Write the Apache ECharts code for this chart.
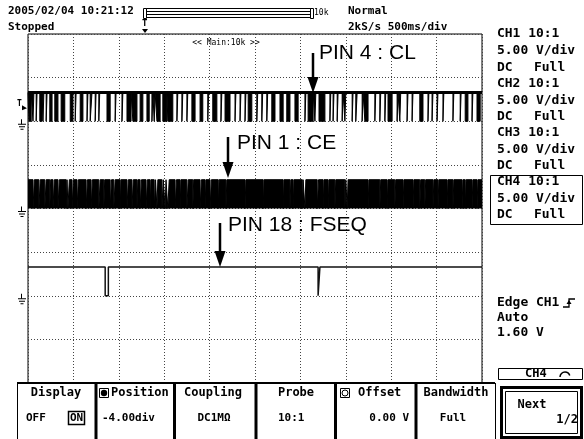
<!DOCTYPE html>
<html>
<head>
<meta charset="utf-8">
<script src="https://cdn.jsdelivr.net/npm/echarts@6/dist/echarts.min.js"></script>
<style>
html, body { margin: 0; padding: 0; background: #fff; }
#main { width: 584px; height: 439px; }
</style>
</head>
<body>
<div id="main"></div>
<script>
// scope setup
var voltsPerDiv = 5;
var logicHigh = 3.3;                 // V
var chPosition = [2, 0, -2, -4];     // ground level of CH1..CH4, in div
var trigLevel = 1.6;                 // V, edge trigger on CH1

// CH1 (PIN 4 : CL) sits high and drops low in these windows (div)
var ch1Pulses = [
  [0.02, 0.07], [0.11, 0.13], [0.18, 0.2], [0.26, 0.31], [0.33, 0.35], [0.40, 0.42],
  [0.48, 0.53], [0.59, 0.66], [0.73, 0.81], [0.93, 0.99], [1.04, 1.06], [1.15, 1.21],
  [1.30, 1.32], [1.37, 1.41], [1.48, 1.50], [1.56, 1.58], [1.74, 1.81], [1.92, 1.94],
  [2.07, 2.09], [2.18, 2.27], [2.31, 2.40], [2.47, 2.53], [2.62, 2.67], [2.73, 2.75],
  [2.78, 2.80], [2.84, 2.91], [2.97, 3.06], [3.08, 3.19], [3.28, 3.30], [3.39, 3.41],
  [3.50, 3.52], [3.61, 3.68], [3.79, 3.85], [3.96, 3.98], [4.07, 4.16], [4.25, 4.27],
  [4.34, 4.45], [4.56, 4.58], [4.67, 4.69], [4.78, 4.80], [4.85, 4.93], [5.04, 5.06],
  [5.15, 5.17], [5.26, 5.28], [5.37, 5.44], [5.55, 5.62], [5.70, 5.77], [5.88, 5.95],
  [6.10, 6.12], [6.17, 6.28], [6.32, 6.34], [6.41, 6.54], [6.65, 6.67], [6.72, 6.74],
  [6.81, 6.83], [6.92, 6.94], [6.98, 7.00], [7.14, 7.16], [7.22, 7.25], [7.36, 7.38],
  [7.42, 7.49], [7.64, 7.66], [7.75, 7.77], [7.86, 7.88], [7.93, 8.02], [8.13, 8.15],
  [8.19, 8.21], [8.35, 8.37], [8.46, 8.48], [8.63, 8.70], [8.81, 8.83], [8.90, 8.92],
  [9.01, 9.03], [9.14, 9.16], [9.36, 9.38], [9.52, 9.54], [9.63, 9.69], [9.78, 9.80],
  [9.89, 9.96]
];

// CH2 (PIN 1 : CE) toggles too fast to resolve; these are the quiet gaps
var ch2Gaps = [
  [0.11, 0.14], [0.24, 0.27], [0.37, 0.40], [0.48, 0.50], [0.55, 0.58], [0.66, 0.69],
  [0.84, 0.86], [0.88, 0.91], [0.97, 1.00], [1.08, 1.11], [1.28, 1.31], [1.39, 1.42],
  [1.56, 1.59], [1.67, 1.69], [1.81, 1.84], [1.89, 1.92], [2.03, 2.05], [2.18, 2.21],
  [2.29, 2.32], [2.40, 2.42], [2.47, 2.50], [2.60, 2.63], [2.69, 2.71], [2.78, 2.81],
  [2.84, 2.86], [2.95, 2.98], [3.02, 3.04], [3.08, 3.11], [3.24, 3.27], [3.35, 3.37],
  [3.50, 3.53], [3.63, 3.65], [3.79, 3.82], [3.90, 3.92], [4.01, 4.04], [4.19, 4.21],
  [4.36, 4.38], [4.78, 4.80], [5.18, 5.20], [5.62, 5.64], [5.77, 5.79], [5.84, 5.86],
  [6.04, 6.06], [6.10, 6.12], [6.37, 6.40], [6.50, 6.52], [6.61, 6.63], [6.76, 6.78],
  [6.98, 7.00], [7.03, 7.05], [7.49, 7.51], [7.75, 7.77], [7.91, 7.93], [8.08, 8.10],
  [8.26, 8.28], [8.48, 8.50], [8.63, 8.65], [8.74, 8.76], [8.92, 8.94], [9.03, 9.05],
  [9.23, 9.25], [9.36, 9.38], [9.56, 9.58], [9.63, 9.65], [9.78, 9.80], [9.89, 9.91]
];

// CH3 (PIN 18 : FSEQ) frame pulses
var ch3Pulses = [[1.70, 1.77], [6.39, 6.43]];

// CH4 shows no activity
var ch4Pulses = [];

var pinLabels = ['PIN 4 : CL', 'PIN 1 : CE', 'PIN 18 : FSEQ'];

// build a two-level waveform: idle level, dropping to active level inside each window
function trace(windows, pos, idleV, activeV) {
  var idle = pos + idleV / voltsPerDiv;
  var act = pos + activeV / voltsPerDiv;
  var pts = [[0, idle]];
  windows.forEach(function (w) {
    pts.push([w[0], idle], [w[0], act], [w[1], act], [w[1], idle]);
  });
  pts.push([10, idle]);
  return pts;
}

var hi1 = chPosition[0] + logicHigh / voltsPerDiv;

var chart = echarts.init(document.getElementById('main'));

var dotted = { color: '#444', width: 1, type: [1, 2] };

chart.setOption({
  animation: false,
  grid: { left: 28, top: 34, width: 454, height: 349, show: true, borderColor: '#000', borderWidth: 1, backgroundColor: '#fff' },
  xAxis: {
    type: 'value', min: 0, max: 10, interval: 1,
    axisLine: { show: false }, axisTick: { show: false }, axisLabel: { show: false },
    splitLine: { show: true, lineStyle: dotted }
  },
  yAxis: {
    type: 'value', min: -4, max: 4, interval: 1,
    axisLine: { show: false }, axisTick: { show: false }, axisLabel: { show: false },
    splitLine: { show: true, lineStyle: dotted }
  },
  series: [
    {
      name: 'CH1', type: 'line', symbol: 'none', silent: true,
      data: trace(ch1Pulses, chPosition[0], logicHigh, 0),
      lineStyle: { color: '#000', width: 1 },
      areaStyle: { color: '#000', opacity: 1, origin: hi1 },
      markLine: {
        silent: true, symbol: 'none', label: { show: false },
        lineStyle: { color: '#000', width: 3, type: 'solid' },
        data: [{ yAxis: hi1 }]
      }
    },
    {
      name: 'CH2', type: 'line', symbol: 'none', silent: true,
      data: trace(ch2Gaps, chPosition[1], logicHigh, 0),
      lineStyle: { color: '#000', width: 1 },
      areaStyle: { color: '#000', opacity: 1, origin: chPosition[1] }
    },
    {
      name: 'CH3', type: 'line', symbol: 'none', silent: true,
      data: trace(ch3Pulses, chPosition[2], logicHigh, 0),
      lineStyle: { color: '#111', width: 1.5 }
    },
    {
      name: 'CH4', type: 'line', symbol: 'none', silent: true,
      data: trace(ch4Pulses, chPosition[3], 0, 0),
      lineStyle: { color: '#000', width: 2 }
    }
  ]
});

// ---- screen furniture ----
var MONO = '"DejaVu Sans Mono"';
function txt(s, x, y, size, opt) {
  opt = opt || {};
  return {
    type: 'text', x: x, y: y, scaleX: opt.sx || 1, z: 10,
    style: {
      text: s, fill: '#000',
      font: (opt.weight || 'bold') + ' ' + size + 'px ' + (opt.family || MONO),
      textAlign: opt.align || 'left', textVerticalAlign: 'middle'
    }
  };
}
function ln(x1, y1, x2, y2, w) {
  return { type: 'line', z: 10, shape: { x1: x1, y1: y1, x2: x2, y2: y2 }, style: { stroke: '#000', lineWidth: w || 1 } };
}
function box(x, y, w, h, lw) {
  return { type: 'rect', z: 10, shape: { x: x, y: y, width: w, height: h }, style: { fill: null, stroke: '#000', lineWidth: lw || 1 } };
}
function tri(pts) {
  return { type: 'polygon', z: 10, shape: { points: pts }, style: { fill: '#000' } };
}
function arrow(x, y1, y2) {
  return [ln(x, y1, x, y2 - 14, 2.5), tri([[x - 5.5, y2 - 16], [x + 5.5, y2 - 16], [x, y2]])];
}
function ground(y) {
  return [ln(21.5, y - 2, 21.5, y + 3), ln(18, y + 3, 26, y + 3), ln(19, y + 5.5, 25, y + 5.5), ln(20.5, y + 8, 23.5, y + 8)];
}

var g = [];
// header
g.push(txt('2005/02/04 10:21:12', 8, 11, 11));
g.push(txt('Stopped', 8, 27, 11));
g.push(box(143.5, 8.5, 3, 10), box(146.5, 8.5, 164, 9), ln(147, 11.5, 310, 11.5), ln(147, 14.5, 310, 14.5), box(310.5, 8.5, 3, 10));
g.push(txt('10k', 314, 13, 8, { weight: 'normal' }));
g.push(txt('T', 142, 24, 9), tri([[142, 29], [148, 29], [145, 33]]));
g.push(txt('Normal', 348, 11, 11));
g.push(txt('2kS/s 500ms/div', 348, 27, 11));
g.push(txt('<< Main:10k >>', 226, 43, 8, { weight: 'normal', align: 'center' }));

// right panel
var side = ['CH1 10:1', '5.00 V/div', 'DC', 'CH2 10:1', '5.00 V/div', 'DC', 'CH3 10:1', '5.00 V/div', 'DC', 'CH4 10:1', '5.00 V/div', 'DC'];
var sideY = [34, 51, 68, 84, 101, 117, 133, 150, 166, 182, 199, 215];
side.forEach(function (s, i) {
  g.push(txt(s, 497, sideY[i], 12, { sx: 1.08 }));
  if (s === 'DC') g.push(txt('Full', 534, sideY[i], 12, { sx: 1.08 }));
});
g.push(box(490.5, 175.5, 92, 49));
g.push(txt('Edge CH1', 497, 303, 12, { sx: 1.08 }));
g.push({ type: 'polyline', z: 10, shape: { points: [[563, 307], [569, 307], [569, 299], [575, 299]] }, style: { stroke: '#000', lineWidth: 1.3, fill: null } });
g.push(tri([[566.5, 304], [571.5, 304], [569, 300]]));
g.push(txt('Auto', 497, 318, 12, { sx: 1.08 }));
g.push(txt('1.60 V', 497, 333, 12, { sx: 1.08 }));

// soft keys
g.push(ln(17, 383, 495, 383, 2), ln(17.5, 383, 17.5, 439), ln(495.5, 383, 495.5, 439));
[96, 174.5, 256, 335.5, 416].forEach(function (x) { g.push(ln(x, 383, x, 439, 3)); });
g.push(txt('Display', 56, 393, 12, { align: 'center' }));
g.push(box(99.5, 388.5, 9, 9), { type: 'circle', z: 10, shape: { cx: 104, cy: 393, r: 3.2 }, style: { fill: '#000' } });
g.push(txt('Position', 111, 393, 12));
g.push(txt('Coupling', 213, 393, 12, { align: 'center' }));
g.push(txt('Probe', 296, 393, 12, { align: 'center' }));
g.push(box(340.5, 388.5, 9, 9), { type: 'circle', z: 10, shape: { cx: 345, cy: 393, r: 3 }, style: { fill: null, stroke: '#000', lineWidth: 1 } });
g.push(txt('Offset', 358, 393, 12));
g.push(txt('Bandwidth', 456, 393, 12, { align: 'center' }));
g.push(txt('OFF', 26, 418, 11));
g.push(box(68.5, 411.5, 16, 13, 1.5), txt('ON', 70, 418, 11));
g.push(txt('-4.00div', 102, 418, 11));
g.push(txt('DC1M\u03a9', 214, 418, 11, { align: 'center' }));
g.push(txt('10:1', 278, 418, 11));
g.push(txt('0.00 V', 409, 418, 11, { align: 'right' }));
g.push(txt('Full', 453, 418, 11, { align: 'center' }));
g.push(box(498.5, 368.5, 84, 11), txt('CH4', 525, 374, 12));
g.push({ type: 'arc', z: 10, shape: { cx: 565, cy: 377, r: 5, startAngle: Math.PI, endAngle: Math.PI * 1.9 }, style: { stroke: '#000', lineWidth: 1.5, fill: null } });
g.push(box(501.5, 387.5, 80, 50, 3), box(505.5, 391.5, 72, 42, 1));
g.push(txt('Next', 532, 405, 12, { align: 'center' }));
g.push(txt('1/2', 578, 420, 12, { align: 'right' }));

// arrows and pin names
g = g.concat(arrow(313, 53, 93), arrow(228, 137, 178), arrow(220, 223, 267));
g.push(txt(pinLabels[0], 319, 53, 21, { weight: 'normal', family: '"Liberation Sans"' }));
g.push(txt(pinLabels[1], 237, 143, 21, { weight: 'normal', family: '"Liberation Sans"' }));
g.push(txt(pinLabels[2], 228, 225, 21, { weight: 'normal', family: '"Liberation Sans"' }));

// ground and trigger-level markers at the channel positions
[0, 1, 2].forEach(function (i) {
  var py = chart.convertToPixel({ gridIndex: 0 }, [0, chPosition[i]])[1];
  g = g.concat(ground(py));
});
var ty = chart.convertToPixel({ gridIndex: 0 }, [0, chPosition[0] + trigLevel / voltsPerDiv])[1];
g.push(txt('T', 17, ty - 3, 8), tri([[22, ty - 2], [27, ty + 1], [22, ty + 3]]));

chart.setOption({ graphic: g });
</script>
</body>
</html>
